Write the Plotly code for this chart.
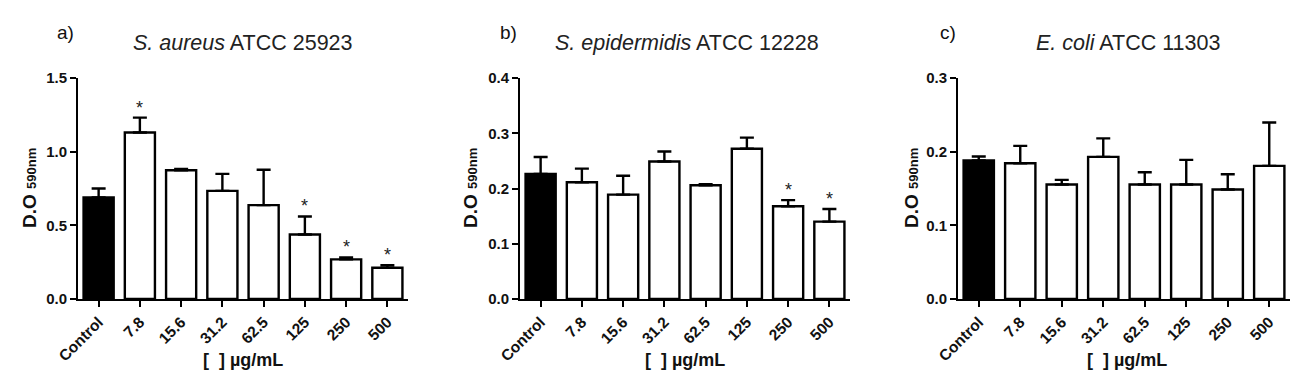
import plotly.graph_objects as go
from plotly.subplots import make_subplots

categories = ["Control", "7.8", "15.6", "31.2", "62.5", "125", "250", "500"]

# Panel a: S. aureus ATCC 25923
a_values = [0.689, 1.130, 0.874, 0.734, 0.637, 0.438, 0.269, 0.212]
a_err = [0.061, 0.101, 0.009, 0.115, 0.240, 0.122, 0.013, 0.018]
a_sig = [False, True, False, False, False, True, True, True]

# Panel b: S. epidermidis ATCC 12228
b_values = [0.2265, 0.2114, 0.189, 0.249, 0.206, 0.272, 0.168, 0.140]
b_err = [0.0305, 0.0246, 0.034, 0.018, 0.002, 0.020, 0.011, 0.023]
b_sig = [False, False, False, False, False, False, True, True]

# Panel c: E. coli ATCC 11303
c_values = [0.188, 0.1843, 0.1554, 0.1929, 0.1554, 0.1554, 0.1486, 0.1807]
c_err = [0.0054, 0.0235, 0.0063, 0.0251, 0.0166, 0.0335, 0.0208, 0.0588]
c_sig = [False] * 8

y_max = [1.5, 0.4, 0.3]
y_dtick = [0.5, 0.1, 0.1]
letters = ["a)", "b)", "c)"]
titles = ["<i>S. aureus</i> ATCC 25923", "<i>S. epidermidis</i> ATCC 12228", "<i>E. coli</i> ATCC 11303"]

W, H = 1313, 381
OFF = 8  # page body margin
FONT = "Liberation Sans, Arial, sans-serif"


def px(v):
    return (v - OFF) / W


def py(v):
    return 1 - (v - OFF) / H


x_domains = [(px(78), px(408)), (px(520), px(850)), (px(958), px(1290))]
y_domain = (py(299), py(78))
letter_x = [65, 508, 948]
title_x = [243, 687, 1128]
ytitle_x = [29, 470, 911]
xtitle_x = [243, 685, 1127]

fig = make_subplots(rows=1, cols=3)

panels = [(a_values, a_err, a_sig), (b_values, b_err, b_sig), (c_values, c_err, c_sig)]
annotations = []
for i, (vals, errs, sig) in enumerate(panels):
    colors = ["black"] + ["white"] * (len(categories) - 1)
    fig.add_trace(
        go.Bar(
            x=categories,
            y=vals,
            marker=dict(color=colors, line=dict(color="black", width=2.4)),
            error_y=dict(type="data", symmetric=False, array=errs,
                         arrayminus=[0] * len(errs), color="black",
                         thickness=2.4, width=7),
            showlegend=False,
        ),
        row=1, col=i + 1,
    )
    xa = "xaxis" if i == 0 else f"xaxis{i + 1}"
    ya = "yaxis" if i == 0 else f"yaxis{i + 1}"
    fig.layout[xa].update(
        domain=list(x_domains[i]), showline=True, linecolor="black", linewidth=2,
        ticks="outside", ticklen=6, tickwidth=2, tickcolor="black",
        tickangle=-45, tickfont=dict(family=FONT, size=15.5, color="#111", weight=700),
        showgrid=False, zeroline=False, range=[-0.5, 7.5], type="category",
        automargin=False,
    )
    fig.layout[ya].update(
        domain=list(y_domain), showline=True, linecolor="black", linewidth=2,
        ticks="outside", ticklen=6, tickwidth=2, tickcolor="black",
        range=[0, y_max[i]], dtick=y_dtick[i], tick0=0, tickformat=".1f",
        tickfont=dict(family=FONT, size=15, color="#111", weight=700),
        showgrid=False, zeroline=False, automargin=False,
    )
    xref = "x" if i == 0 else f"x{i + 1}"
    yref = "y" if i == 0 else f"y{i + 1}"
    for j, s in enumerate(sig):
        if s:
            annotations.append(dict(
                x=j, y=vals[j] + errs[j], xref=xref, yref=yref,
                text="*", showarrow=False, xanchor="center", yanchor="bottom", yshift=-2,
                font=dict(family=FONT, size=18, color="#222"),
            ))
    annotations.append(dict(
        x=px(letter_x[i]), y=py(33), xref="paper", yref="paper",
        text=letters[i], showarrow=False, xanchor="center", yanchor="middle",
        font=dict(family=FONT, size=19, color="#111"),
    ))
    annotations.append(dict(
        x=px(title_x[i]), y=py(43), xref="paper", yref="paper",
        text=titles[i], showarrow=False, xanchor="center", yanchor="middle",
        font=dict(family=FONT, size=21.5, color="#222"),
    ))
    annotations.append(dict(
        x=px(ytitle_x[i]), y=py(188), xref="paper", yref="paper",
        text="<b>D.O <span style='font-size:13px'>590nm</span></b>",
        textangle=-90, showarrow=False, xanchor="center", yanchor="middle",
        font=dict(family=FONT, size=19, color="#111"),
    ))
    annotations.append(dict(
        x=px(xtitle_x[i]), y=py(360), xref="paper", yref="paper",
        text="<b>[  ] µg/mL</b>", showarrow=False, xanchor="center", yanchor="middle",
        font=dict(family=FONT, size=18, color="#111"),
    ))

fig.update_layout(
    width=W, height=H, margin=dict(l=0, r=0, t=0, b=0),
    paper_bgcolor="white", plot_bgcolor="white",
    bargap=0.27, annotations=annotations,
)

fig.write_html("out.html")
